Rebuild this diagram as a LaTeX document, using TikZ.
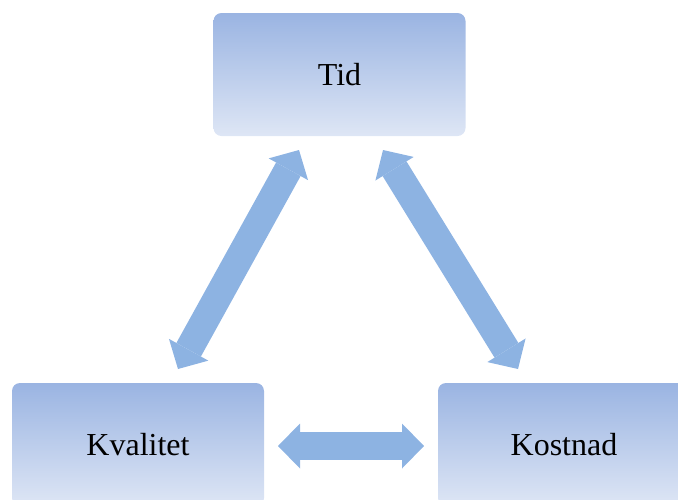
\documentclass[tikz,border=0pt]{standalone}
\usepackage{fontspec}
\setmainfont{Liberation Serif}
\usetikzlibrary{arrows.meta}
\definecolor{boxtop}{RGB}{154,180,226}
\definecolor{boxbottom}{RGB}{222,230,245}
\definecolor{arrowblue}{RGB}{141,179,226}
\begin{document}
\begin{tikzpicture}[x=1pt,y=-1pt,
  box/.style={rounded corners=8pt, top color=boxtop, bottom color=boxbottom,
    draw=none, minimum width=252pt, minimum height=123pt, inner sep=0pt,
    font=\fontsize{32}{38}\selectfont},
  link/.style={draw=arrowblue, line width=28pt, {Triangle[length=22pt,width=45pt,line width=0pt]}-{Triangle[length=22pt,width=45pt,line width=0pt]}}]
\useasboundingbox (0,0) rectangle (678,499);
\clip (0,0) rectangle (678,499);
% the three corners of the triangle
\node[box] (tid)  at (339.5,74.5) {Tid};
\node[box] (kval) at (138,444.5) {Kvalitet};
\node[box] (kost) at (564,444.5) {Kostnad};
% arrow end points
\coordinate (tidL)  at (299,150);
\coordinate (tidR)  at (383,150);
\coordinate (kvalT) at (178,369);
\coordinate (kostT) at (518,369);
\coordinate (kvalR) at (278,446);
\coordinate (kostL) at (424,446);
% two-way arrows
\draw[link] (kvalT) -- (tidL);
\draw[link] (tidR) -- (kostT);
\draw[link] (kvalR) -- (kostL);
\end{tikzpicture}
\end{document}
